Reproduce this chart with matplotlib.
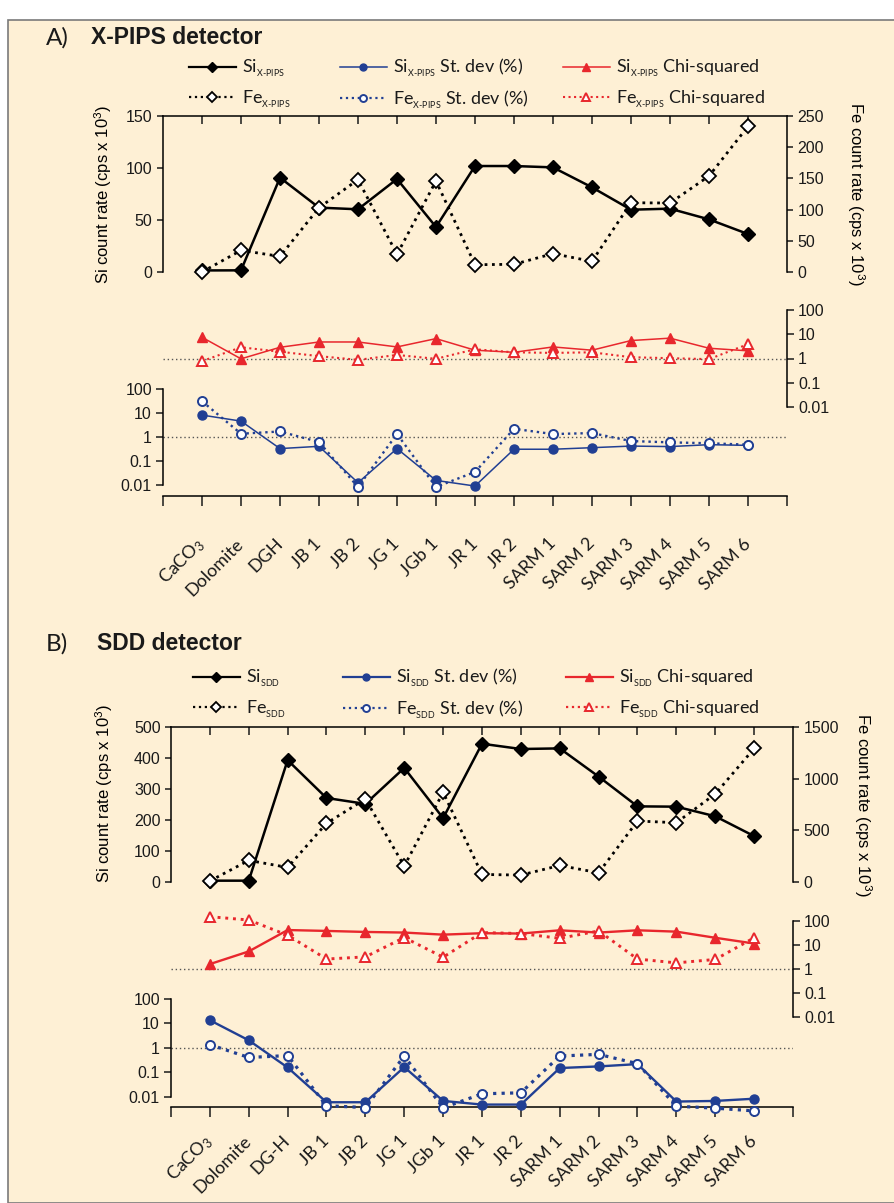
import numpy as np
import matplotlib
matplotlib.use('Agg')
import matplotlib.pyplot as plt
from matplotlib.lines import Line2D
from matplotlib.patches import Rectangle

# Samples (x axis)
SAMPLES_A = ['CaCO$_3$', 'Dolomite', 'DGH', 'JB 1', 'JB 2', 'JG 1', 'JGb 1', 'JR 1', 'JR 2',
             'SARM 1', 'SARM 2', 'SARM 3', 'SARM 4', 'SARM 5', 'SARM 6']
SAMPLES_B = ['CaCO$_3$', 'Dolomite', 'DG-H', 'JB 1', 'JB 2', 'JG 1', 'JGb 1', 'JR 1', 'JR 2',
             'SARM 1', 'SARM 2', 'SARM 3', 'SARM 4', 'SARM 5', 'SARM 6']

# X-PIPS detector: count rates in cps x 10^3, st. dev in %, chi-squared
si_a = [1.5, 1.6, 90.7, 61.9, 60.3, 89.4, 43.3, 101.9, 101.9, 100.6, 81.4, 59.9, 60.9, 50.6, 36.5]
fe_a = [0, 34.7, 25, 103, 148, 28.3, 145.8, 11.7, 12.3, 29.4, 17.1, 111, 110.5, 153.8, 233.4]
si_sd_a = [8.2, 4.6, 0.33, 0.41, 0.0125, 0.33, 0.0156, 0.0091, 0.31, 0.31, 0.36, 0.42, 0.40, 0.48, 0.45]
fe_sd_a = [31, 1.37, 1.7, 0.62, 0.0083, 1.33, 0.0083, 0.035, 2.2, 1.33, 1.46, 0.68, 0.60, 0.55, 0.48]
si_chi_a = [7.5, 0.97, 2.9, 4.8, 4.8, 3.0, 6.6, 2.2, 1.8, 3.0, 2.2, 5.5, 6.9, 2.65, 2.07]
fe_chi_a = [0.78, 2.9, 1.9, 1.25, 0.88, 1.4, 0.97, 2.4, 1.8, 1.7, 1.8, 1.13, 1.03, 0.94, 3.9]

# SDD detector
si_b = [4.3, 4.3, 393, 271, 252, 368, 206, 446, 429, 431, 340, 244, 243, 212, 148]
fe_b = [10, 209, 141, 568, 803, 154, 867, 73, 67, 160, 89, 590, 574, 852, 1292]
si_sd_b = [13.6, 2.06, 0.16, 0.0061, 0.0061, 0.166, 0.0069, 0.0049, 0.0049, 0.152, 0.177, 0.22,
           0.0065, 0.0069, 0.0085]
fe_sd_b = [1.37, 0.41, 0.49, 0.0044, 0.0037, 0.47, 0.0036, 0.0135, 0.0148, 0.47, 0.55, 0.23,
           0.0042, 0.0035, 0.0027]
si_chi_b = [1.6, 5.4, 42, 38.6, 35, 33, 27, 31, 30, 41, 33, 41, 36, 20, 11.5]
fe_chi_b = [151, 110, 25.6, 2.6, 3.2, 20.5, 3.1, 33, 30, 19, 38.6, 2.6, 1.8, 2.5, 20]

LOG_TICKS = [0.01, 0.1, 1, 10, 100]
LOG_LABELS = ['0.01', '0.1', '1', '10', '100']

W, H = 895, 1203
CREAM = '#fef0d5'
BLUE = '#213f93'
RED = '#e8272d'
GREY = '#555555'
INK = '#1a1a1a'
CAL = ['Lato', 'DejaVu Sans']

plt.rcParams['font.family'] = ['Liberation Sans', 'DejaVu Sans']
plt.rcParams['mathtext.fontset'] = 'custom'
plt.rcParams['mathtext.rm'] = 'Lato'
plt.rcParams['mathtext.it'] = 'Lato:italic'
plt.rcParams['mathtext.bf'] = 'Lato:bold'
plt.rcParams['axes.linewidth'] = 1.1
plt.rcParams['text.color'] = INK
plt.rcParams['xtick.color'] = INK
plt.rcParams['ytick.color'] = INK


def rect(left, top, right, bottom):
    """Pixel box -> figure fraction"""
    return [left / W, 1 - bottom / H, (right - left) / W, (bottom - top) / H]


def styles(thin):
    lw = 1.1 if thin else 1.7
    return {
        'si': dict(color='black', ls='-', lw=1.8, marker='D', ms=7, mfc='black', mec='black'),
        'fe': dict(color='black', ls=':', lw=2.0, marker='D', ms=7, mfc='white', mec='black', mew=1.3),
        'si_sd': dict(color=BLUE, ls='-', lw=lw, marker='o', ms=6.5, mfc=BLUE, mec=BLUE),
        'fe_sd': dict(color=BLUE, ls=':', lw=lw + 0.6, marker='o', ms=6.5, mfc='white', mec=BLUE, mew=1.4),
        'si_chi': dict(color=RED, ls='-', lw=lw, marker='^', ms=7, mfc=RED, mec=RED),
        'fe_chi': dict(color=RED, ls=':', lw=lw + 0.4, marker='^', ms=7, mfc='white', mec=RED, mew=1.4),
    }


def log_axis(ax, side):
    ax.set_yscale('log')
    ax.set_yticks(LOG_TICKS, LOG_LABELS)
    ax.minorticks_off()
    ax.yaxis.set_ticks_position(side)
    ax.tick_params(axis='y', length=5, width=1.1, pad=3, labelsize=11.5)
    ax.axhline(1, ls=(0, (1, 2)), color=GREY, lw=1.0, zorder=0)


def add_panel(g, names, data, sub, tag, title, thin):
    st = styles(thin)
    x = np.arange(len(names))
    left, right = g['left'], g['right']
    si, fe, si_sd, fe_sd, si_chi, fe_chi = data

    # count rates (Si left, Fe right)
    ax = fig.add_axes(rect(left, g['top'], right, g['base']))
    ax.patch.set_visible(False)
    axr = ax.twinx()
    ax.plot(x, si, clip_on=False, zorder=3, **st['si'])
    axr.plot(x, fe, clip_on=False, zorder=3, **st['fe'])
    ax.set_xlim(-1, len(names))
    ax.set_ylim(0, g['si_max'])
    axr.set_ylim(0, g['fe_max'])
    ax.set_yticks(np.arange(0, g['si_max'] + 1, g['si_step']))
    axr.set_yticks(np.arange(0, g['fe_max'] + 1, g['fe_step']))
    ax.xaxis.tick_top()
    ax.set_xticks(x)
    ax.tick_params(axis='x', direction='in', length=5.5, width=1.1, labeltop=False)
    ax.tick_params(axis='y', length=4.5, width=1.1, pad=3, labelsize=11.5)
    axr.tick_params(axis='y', length=4.5, width=1.1, pad=3, labelsize=11.5)
    for s in ['bottom', 'right']:
        ax.spines[s].set_visible(False)
    for s in ['bottom', 'left', 'top']:
        axr.spines[s].set_visible(False)
    ax.set_ylabel('Si count rate (cps x 10$^{3}$)', fontsize=12)
    ax.yaxis.set_label_coords(g['ylab_l'], 0.5 + g['ylab_shift'])
    axr.set_ylabel('Fe count rate (cps x 10$^{3}$)', fontsize=12, rotation=270, va='bottom')
    axr.yaxis.set_label_coords(g['ylab_r'], 0.5)

    # chi-squared (right log axis)
    axc = fig.add_axes(rect(left, g['chi_top'], right, g['chi_base']))
    axc.patch.set_visible(False)
    axc.plot(x, si_chi, clip_on=False, zorder=3, **st['si_chi'])
    axc.plot(x, fe_chi, clip_on=False, zorder=3, **st['fe_chi'])
    axc.set_xlim(-1, len(names))
    axc.set_ylim(0.01, 100)
    log_axis(axc, 'right')
    axc.xaxis.set_visible(False)
    for s in ['bottom', 'left', 'top']:
        axc.spines[s].set_visible(False)

    # standard deviation (left log axis) with the sample axis below
    axs = fig.add_axes(rect(left, g['sd_top'], right, g['sd_base']))
    axs.patch.set_visible(False)
    axs.plot(x, si_sd, clip_on=False, zorder=3, **st['si_sd'])
    axs.plot(x, fe_sd, clip_on=False, zorder=4, **st['fe_sd'])
    axs.set_xlim(-1, len(names))
    axs.set_ylim(g['sd_floor'], 100)
    log_axis(axs, 'left')
    axs.spines['left'].set_bounds(0.01, 100)
    for s in ['top', 'right']:
        axs.spines[s].set_visible(False)
    axs.set_xticks(np.arange(-1, len(names) + 1), [''] + names + [''])
    axs.tick_params(axis='x', length=7.5, width=1.1, pad=g['xlab_pad'], labelsize=13)
    for lab in axs.get_xticklabels():
        lab.set_rotation(45)
        lab.set_ha('right')
        lab.set_va('center')
        lab.set_rotation_mode('anchor')
        lab.set_family(CAL)

    # heading
    fig.text(g['tag_x'] / W, 1 - g['title_y'] / H, tag, family=CAL, fontsize=17.5, va='center')
    fig.text(g['title_x'] / W, 1 - g['title_y'] / H, title, fontsize=16.5, weight='bold', va='center')

    # legend, one column per quantity
    keys = [('si', 'fe'), ('si_sd', 'fe_sd'), ('si_chi', 'fe_chi')]
    texts = [('Si$_{_{%s}}$' % sub, 'Fe$_{_{%s}}$' % sub),
             ('Si$_{_{%s}}$ St. dev (%%)' % sub, 'Fe$_{_{%s}}$ St. dev (%%)' % sub),
             ('Si$_{_{%s}}$ Chi-squared' % sub, 'Fe$_{_{%s}}$ Chi-squared' % sub)]
    for col_x, k, t in zip(g['leg_x'], keys, texts):
        handles = []
        for key in k:
            kw = dict(st[key])
            kw['lw'] = min(kw['lw'], 1.6)
            kw['ms'] = kw['ms'] - 1.5
            handles.append(Line2D([], [], **kw))
        leg = fig.legend(handles, t, loc='center left', bbox_to_anchor=(col_x / W, 1 - g['leg_y'] / H),
                         frameon=False, borderpad=0, borderaxespad=0, handlelength=2.6,
                         handletextpad=0.35, labelspacing=0.5, prop={'family': CAL, 'size': 13})
        for txt in leg.get_texts():
            txt.set_color(INK)


fig = plt.figure(figsize=(W / 100, H / 100), dpi=100, facecolor='white')
fig.patches.append(Rectangle((8 / W, 0), 1, 1 - 20 / H, transform=fig.transFigure,
                             facecolor=CREAM, edgecolor='#7a7a7a', lw=1.2, zorder=-10))

geo_a = dict(left=163, right=787, top=116, base=272, chi_top=310, chi_base=407,
             sd_top=389, sd_base=496, sd_floor=0.0035, xlab_pad=25,
             si_max=150, si_step=50, fe_max=250, fe_step=50,
             ylab_l=-0.079, ylab_shift=0.0, ylab_r=1.093,
             tag_x=46, title_x=91, title_y=38, leg_x=[189, 340, 563], leg_y=84)
geo_b = dict(left=171, right=793, top=727, base=882, chi_top=921, chi_base=1017,
             sd_top=999, sd_base=1107, sd_floor=0.0039, xlab_pad=15,
             si_max=500, si_step=100, fe_max=1500, fe_step=500,
             ylab_l=-0.09, ylab_shift=0.07, ylab_r=1.095,
             tag_x=46, title_x=97, title_y=644, leg_x=[193, 343, 566], leg_y=694)

add_panel(geo_a, SAMPLES_A, (si_a, fe_a, si_sd_a, fe_sd_a, si_chi_a, fe_chi_a),
          r'\text{X-PIPS}', 'A)', 'X-PIPS detector', thin=True)
add_panel(geo_b, SAMPLES_B, (si_b, fe_b, si_sd_b, fe_sd_b, si_chi_b, fe_chi_b),
          r'\text{SDD}', 'B)', 'SDD detector', thin=False)

plt.savefig('out.png', dpi=100)
